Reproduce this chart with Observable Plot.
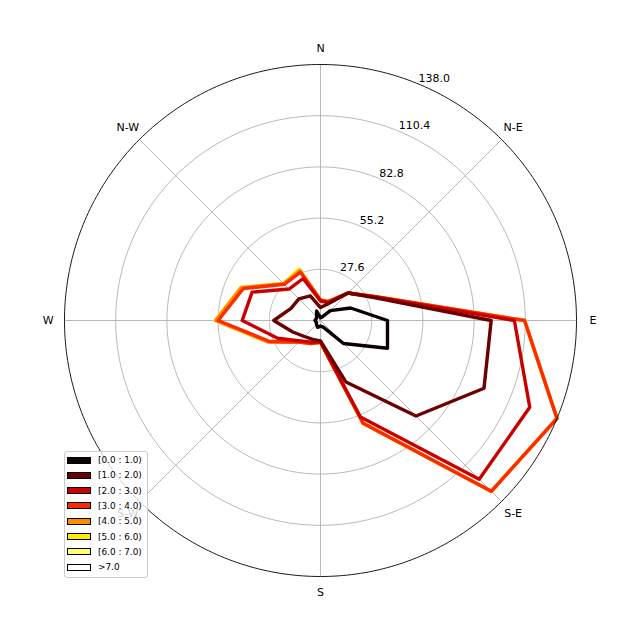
<!DOCTYPE html>
<html>
<head>
<meta charset="utf-8">
<script src="https://cdn.jsdelivr.net/npm/d3@7"></script>
<script src="https://cdn.jsdelivr.net/npm/@observablehq/plot@0.6"></script>
<style>
  body { margin: 0; background: #fff; }
  #wrap { position: relative; width: 640px; height: 640px; font-family: "DejaVu Sans", sans-serif; }
  #legend { position: absolute; left: 64px; top: 451px; width: 84px; height: 127px; box-sizing: border-box;
            background: rgba(255,255,255,0.8); border: 1px solid #cccccc; border-radius: 3px; font-size: 8.9px; color: #000; }
  .row { position: absolute; left: 2px; height: 15px; display: flex; align-items: center; white-space: nowrap; }
  .sw { width: 24px; height: 7px; border: 1px solid #000; box-sizing: border-box; margin-right: 7px; }
</style>
</head>
<body>
<div id="wrap"></div>
<script>
// 16 wind directions, clockwise from North
const directions = ["N","NNE","NE","ENE","E","ESE","SE","SSE","S","SSW","SW","WSW","W","WNW","NW","NNW"];
// speed bins (legend labels)
const bins = ["[0.0 : 1.0)","[1.0 : 2.0)","[2.0 : 3.0)","[3.0 : 4.0)","[4.0 : 5.0)","[5.0 : 6.0)","[6.0 : 7.0)",">7.0"];
// cumulative frequencies per bin (contour values), one per direction
const bin0 = [1.5, 2, 7.5, 17.6, 36.1, 39.1, 17.5, 3.9, 3, 4, 3, 2.5, 3, 2.5, 3, 5.5];
const bin1 = [7, 9.5, 21, 32, 92, 95.4, 72.8, 35.9, 11, 11, 12.2, 16.2, 25.2, 17.2, 16.5, 14.4];
const bin2 = [10.5, 10.5, 21, 33, 104.5, 122.1, 121, 56.3, 11.5, 12.7, 15.5, 25, 42.2, 39.9, 24, 24.5];
const bin3 = [11, 11, 21, 33.1, 110, 138, 130.2, 60, 11.7, 13.5, 16.5, 29.6, 55.2, 45, 27.6, 28.2];
const bin4 = [11, 11, 21, 33.1, 110, 138, 130.2, 60, 11.7, 13.5, 16.5, 30.4, 56.5, 46.3, 28, 29.2];
const bin5 = [11, 11, 21, 33.1, 110, 138, 130.2, 60, 11.7, 13.5, 16.5, 30.4, 56.7, 46.4, 28.2, 30];
const bin6 = [11, 11, 21, 33.1, 110, 138, 130.2, 60, 11.7, 13.5, 16.5, 30.4, 56.7, 46.4, 28.2, 30];
const bin7 = [11, 11, 21, 33.1, 110, 138, 130.2, 60, 11.7, 13.5, 16.5, 30.4, 56.7, 46.4, 28.2, 30];
const series = [bin0, bin1, bin2, bin3, bin4, bin5, bin6, bin7];
// radial tick labels
const radialTicks = [27.6, 55.2, 82.8, 110.4, 138.0];
// compass labels
const compassLabels = ["N","N-E","E","S-E","S","S-W","W","N-W"];

// styles
const binColors = ["#0b0000","#6a0000","#ca0000","#ff2b00","#ff8a00","#ffea00","#ffff70","#ffffff"];

const rMax = radialTicks[radialTicks.length - 1];
const rad = d => d * Math.PI / 180;
const polar = (r, deg) => ({x: r * Math.sin(rad(deg)), y: r * Math.cos(rad(deg))});

// contour rows, drawn highest bin first so lower bins sit on top
const contourRows = [];
for (let b = series.length - 1; b >= 0; b--) {
  series[b].forEach((v, i) => {
    const p = polar(v, i * 360 / directions.length);
    contourRows.push({bin: bins[b], dir: directions[i], value: v, x: p.x, y: p.y});
  });
}

// grid rings
const ringRows = [];
radialTicks.forEach(r => {
  for (let a = 0; a < 360; a += 1) { const p = polar(r, a); ringRows.push({r, x: p.x, y: p.y}); }
});
const outerRows = ringRows.filter(d => d.r === rMax);
const innerRows = ringRows.filter(d => d.r !== rMax);

// spokes
const spokes = compassLabels.map((lab, i) => { const p = polar(rMax, i * 45); return {lab, x2: p.x, y2: p.y}; });
const compassRows = compassLabels.map((lab, i) => { const p = polar(rMax * 1.064, i * 45); return {lab, x: p.x, y: p.y}; });
const radialRows = radialTicks.map(r => { const p = polar(r, 22.5); return {label: r.toFixed(1), x: p.x, y: p.y}; });

const chart = Plot.plot({
  width: 640, height: 640,
  marginTop: 64, marginBottom: 64, marginLeft: 64, marginRight: 64,
  x: {domain: [-rMax, rMax], axis: null},
  y: {domain: [-rMax, rMax], axis: null},
  color: {domain: bins, range: binColors},
  style: {fontFamily: "DejaVu Sans", fontSize: "11px", background: "transparent", overflow: "visible"},
  marks: [
    Plot.line(innerRows, {x: "x", y: "y", z: "r", curve: "linear-closed", stroke: "#b0b0b0", strokeWidth: 0.9}),
    Plot.link(spokes, {x1: 0, y1: 0, x2: "x2", y2: "y2", stroke: "#b0b0b0", strokeWidth: 0.9}),
    Plot.line(contourRows, {x: "x", y: "y", z: "bin", stroke: "bin", curve: "linear-closed", strokeWidth: 3.4, strokeLinejoin: "round"}),
    Plot.line(outerRows, {x: "x", y: "y", curve: "linear-closed", stroke: "#000", strokeWidth: 0.9}),
    Plot.text(compassRows, {x: "x", y: "y", text: "lab", fill: "#000", textAnchor: "middle", lineAnchor: "middle", fontSize: 11}),
    Plot.text(radialRows, {x: "x", y: "y", text: "label", fill: "#000", textAnchor: "start", lineAnchor: "bottom", fontSize: 11, dy: -2})
  ]
});

const wrap = document.getElementById("wrap");
wrap.appendChild(chart);

// legend
const legend = document.createElement("div");
legend.id = "legend";
bins.forEach((b, i) => {
  const row = document.createElement("div");
  row.className = "row";
  row.style.top = (0.5 + i * 15.33) + "px";
  const sw = document.createElement("div");
  sw.className = "sw";
  sw.style.background = binColors[i];
  const t = document.createElement("span");
  t.textContent = b;
  row.appendChild(sw); row.appendChild(t);
  legend.appendChild(row);
});
wrap.appendChild(legend);
</script>
</body>
</html>
